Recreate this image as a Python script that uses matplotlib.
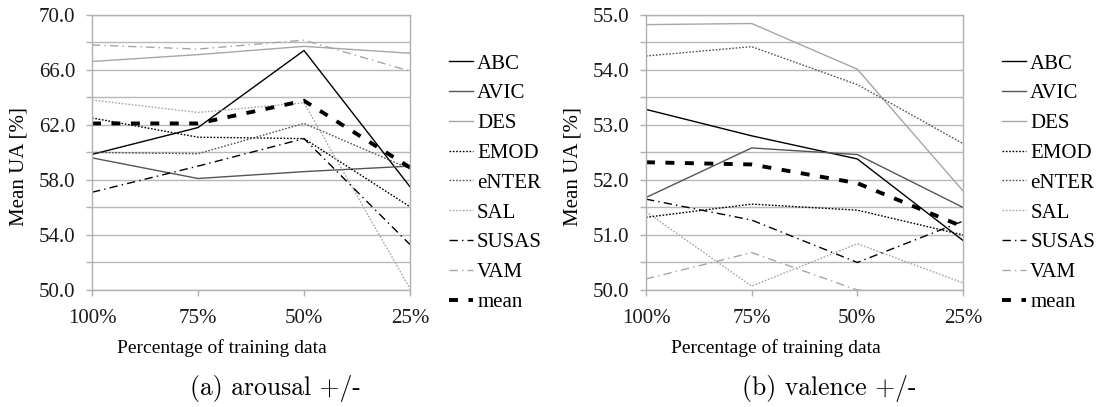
import numpy as np
import matplotlib
matplotlib.use("Agg")
import matplotlib.pyplot as plt

# Daten
pct_labels = ["100%", "75%", "50%", "25%"]
corpora = ["ABC", "AVIC", "DES", "EMOD", "eNTER", "SAL", "SUSAS", "VAM"]

arousal_abc = [59.85, 61.8, 67.4, 57.5]
arousal_avic = [59.6, 58.1, 58.6, 59.0]
arousal_des = [66.6, 67.1, 67.7, 67.2]
arousal_emod = [62.5, 61.1, 61.0, 56.05]
arousal_enter = [60.0, 59.9, 62.1, 58.8]
arousal_sal = [63.8, 62.9, 63.6, 50.1]
arousal_susas = [57.1, 59.0, 61.0, 53.3]
arousal_vam = [67.8, 67.5, 68.15, 65.9]
arousal_mean = [62.1, 62.1, 63.75, 58.9]

valence_abc = [53.28, 52.8, 52.38, 50.9]
valence_avic = [51.68, 52.58, 52.46, 51.5]
valence_des = [54.82, 54.84, 54.01, 51.8]
valence_emod = [51.32, 51.56, 51.45, 51.0]
valence_enter = [54.25, 54.42, 53.73, 52.66]
valence_sal = [51.42, 50.07, 50.84, 50.13]
valence_susas = [51.65, 51.27, 50.5, 51.25]
valence_vam = [50.2, 50.68, 50.0, 49.9]
valence_mean = [52.32, 52.28, 51.94, 51.15]

arousal = [arousal_abc, arousal_avic, arousal_des, arousal_emod, arousal_enter,
           arousal_sal, arousal_susas, arousal_vam]
valence = [valence_abc, valence_avic, valence_des, valence_emod, valence_enter,
           valence_sal, valence_susas, valence_vam]

arousal_major = [50, 54, 58, 62, 66, 70]
arousal_minor = [52, 56, 60, 64, 68]
valence_major = [50, 51, 52, 53, 54, 55]
valence_minor = [50.5, 51.5, 52.5, 53.5, 54.5]

# Linienstile je Korpus
dark = "#555555"
light = "#a6a6a6"
dot = (0, (1.2, 1.2))
dashdot = (0, (6, 3, 1, 3))
styles = {
    "ABC": dict(color="black", ls="-"),
    "AVIC": dict(color=dark, ls="-"),
    "DES": dict(color=light, ls="-"),
    "EMOD": dict(color="black", ls=dot),
    "eNTER": dict(color=dark, ls=dot),
    "SAL": dict(color=light, ls=dot),
    "SUSAS": dict(color="black", ls=dashdot),
    "VAM": dict(color=light, ls=dashdot),
}

plt.rcParams["font.family"] = ["Liberation Serif", "DejaVu Serif"]
plt.rcParams["font.size"] = 15

fig = plt.figure(figsize=(11.03, 4.07), dpi=100)
W, H = 1103, 407
x = np.arange(len(pct_labels))


def draw_panel(left_px, right_px, data, mean, ylim, major, minor, caption):
    top_px, bot_px = 14.7, 290
    ax = fig.add_axes([left_px / W, 1 - bot_px / H, (right_px - left_px) / W, (bot_px - top_px) / H])
    for name, vals in zip(corpora, data):
        st = styles[name]
        ax.plot(x, vals, color=st["color"], linestyle=st["ls"], lw=1.0, label=name)
    ax.plot(x, mean, color="black", lw=2.8, linestyle=(0, (2.3, 2.7)),
            dash_capstyle="butt", label="mean")
    ax.set_xlim(0, 3)
    ax.set_ylim(*ylim)
    ax.set_xticks(x)
    ax.set_xticklabels(pct_labels)
    ax.set_yticks(major)
    ax.set_yticks(minor, minor=True)
    ax.set_yticklabels(["%.1f" % v for v in major])
    ax.grid(axis="y", which="both", color="#b8b8b8", lw=1.0)
    ax.set_axisbelow(True)
    for s in ["left", "right", "top", "bottom"]:
        ax.spines[s].set_color("#b0b0b0")
        ax.spines[s].set_linewidth(1.0)
    ax.tick_params(axis="both", which="both", length=4, color="#b0b0b0", width=1.0,
                   labelcolor="#1a1a1a")
    ax.tick_params(axis="y", which="major", pad=8)
    ax.tick_params(axis="x", pad=10)
    ax.legend(loc="upper left", bbox_to_anchor=((right_px + 39) / W, 1 - 54 / H),
              bbox_transform=fig.transFigure, frameon=False, handlelength=1.15,
              handletextpad=0.2, labelspacing=0.49, borderaxespad=0, borderpad=0)
    fig.text((left_px - 73) / W, 1 - 167 / H, "Mean UA [%]", rotation=90, ha="center", va="center")
    fig.text((left_px + 130) / W, 1 - 348 / H, "Percentage of training data",
             ha="center", va="center", fontsize=14)
    fig.text((left_px + 183) / W, 1 - 388 / H, caption, ha="center", va="center",
             family="cmr10", fontsize=18.5)
    return ax


draw_panel(92, 410, arousal, arousal_mean, (50, 70), arousal_major, arousal_minor, "(a) arousal +/-")
draw_panel(646, 963, valence, valence_mean, (50, 55), valence_major, valence_minor, "(b) valence +/-")

fig.savefig("out.png", dpi=100)
